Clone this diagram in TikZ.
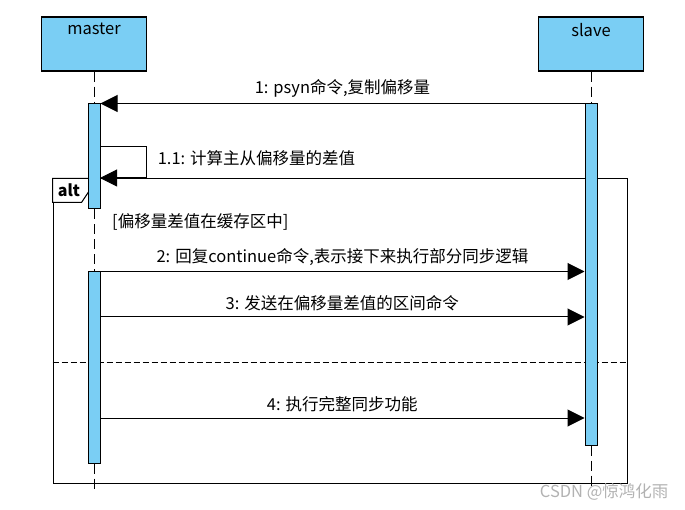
\documentclass[tikz,border=0pt]{standalone}
\usepackage{fontspec}
\setmainfont{Noto Sans CJK SC}
\usepackage{tikz}
\usetikzlibrary{arrows.meta}
\definecolor{barblue}{RGB}{122,206,244}
\tikzset{
  objbox/.style={draw=black, fill=barblue, line width=1.3pt, minimum width=105pt, minimum height=54pt, inner sep=0pt},
  actbar/.style={draw=black, fill=barblue, line width=1pt, minimum width=12pt, inner sep=0pt},
  msg/.style={line width=1pt, -{Triangle[length=17pt,width=17pt]}},
  life/.style={line width=1pt, dash pattern=on 10pt off 5pt},
  msglabel/.style={above, yshift=2pt},
}

\begin{document}
\begin{tikzpicture}[x=1pt, y=-1pt, font=\fontsize{16.5}{19}\selectfont]
    \useasboundingbox (0,0) rectangle (685,510);
    % alt frame
    \node[draw=black, line width=1pt, minimum width=574pt, minimum height=304pt, inner sep=0pt] (alt) at (340,331) {};
    \draw[line width=1pt, fill=white] (alt.north west) -- ++(0,24) -- ++(29,0) -- ++(8,-12) -- ++(0,-12) -- cycle;
    \node[font=\fontsize{16}{18}\selectfont\bfseries] (altname) at (69,190) {alt};
    \draw[line width=1pt, dash pattern=on 6pt off 3pt] (alt.west |- 0,362) -- (alt.east |- 0,362);
    \node[anchor=west, inner sep=0pt] (guard) at (112,222) {[偏移量差值在缓存区中]};

    % objects
    \node[objbox, label={[anchor=north, yshift=-3pt]north:master}] (master) at (94,44) {};
    \node[objbox, label={[anchor=north, yshift=-3pt]north:slave}] (slave) at (591,44) {};
    \node[actbar, minimum height=105pt] (mbar1) at (94,156.5) {};
    \node[actbar, minimum height=191pt] (mbar2) at (94,367.5) {};
    \node[actbar, minimum height=341pt] (sbar) at (591,274.5) {};
    \coordinate (mend) at (94,493);
    \coordinate (send) at (591,487);

    % lifelines
    \draw[life] (master) -- (mbar1);
    \draw[life] (mbar1) -- (mbar2);
    \draw[life] (mbar2) -- (mend);
    \draw[life] (slave) -- (sbar);
    \draw[life] (sbar) -- (send);

    % messages
    \draw[msg] (sbar.north west) -- node[msglabel] {1: psyn命令,复制偏移量} (mbar1.north east);
    \coordinate (selfout) at (100,147);
    \coordinate (selfturn) at (146,147);
    \coordinate (selfback) at (146,178);
    \coordinate (selfin) at (100,178);
    \draw[msg] (selfout) -- (selfturn) -- node[right, xshift=8pt, yshift=4pt] {1.1: 计算主从偏移量的差值} (selfback) -- (selfin);
    \draw[msg] (mbar2.north east) -- node[msglabel] {2: 回复continue命令,表示接下来执行部分同步逻辑} (sbar.west |- mbar2.north);
    \coordinate (m3) at (100,317);
    \draw[msg] (m3) -- node[msglabel] {3: 发送在偏移量差值的区间命令} (sbar.west |- m3);
    \coordinate (m4) at (100,418);
    \draw[msg] (m4) -- node[msglabel] {4: 执行完整同步功能} (sbar.west |- m4);

    \node[text=black!30, anchor=east] (mark) at (672,492) {CSDN @惊鸿化雨};
\end{tikzpicture}
\end{document}
